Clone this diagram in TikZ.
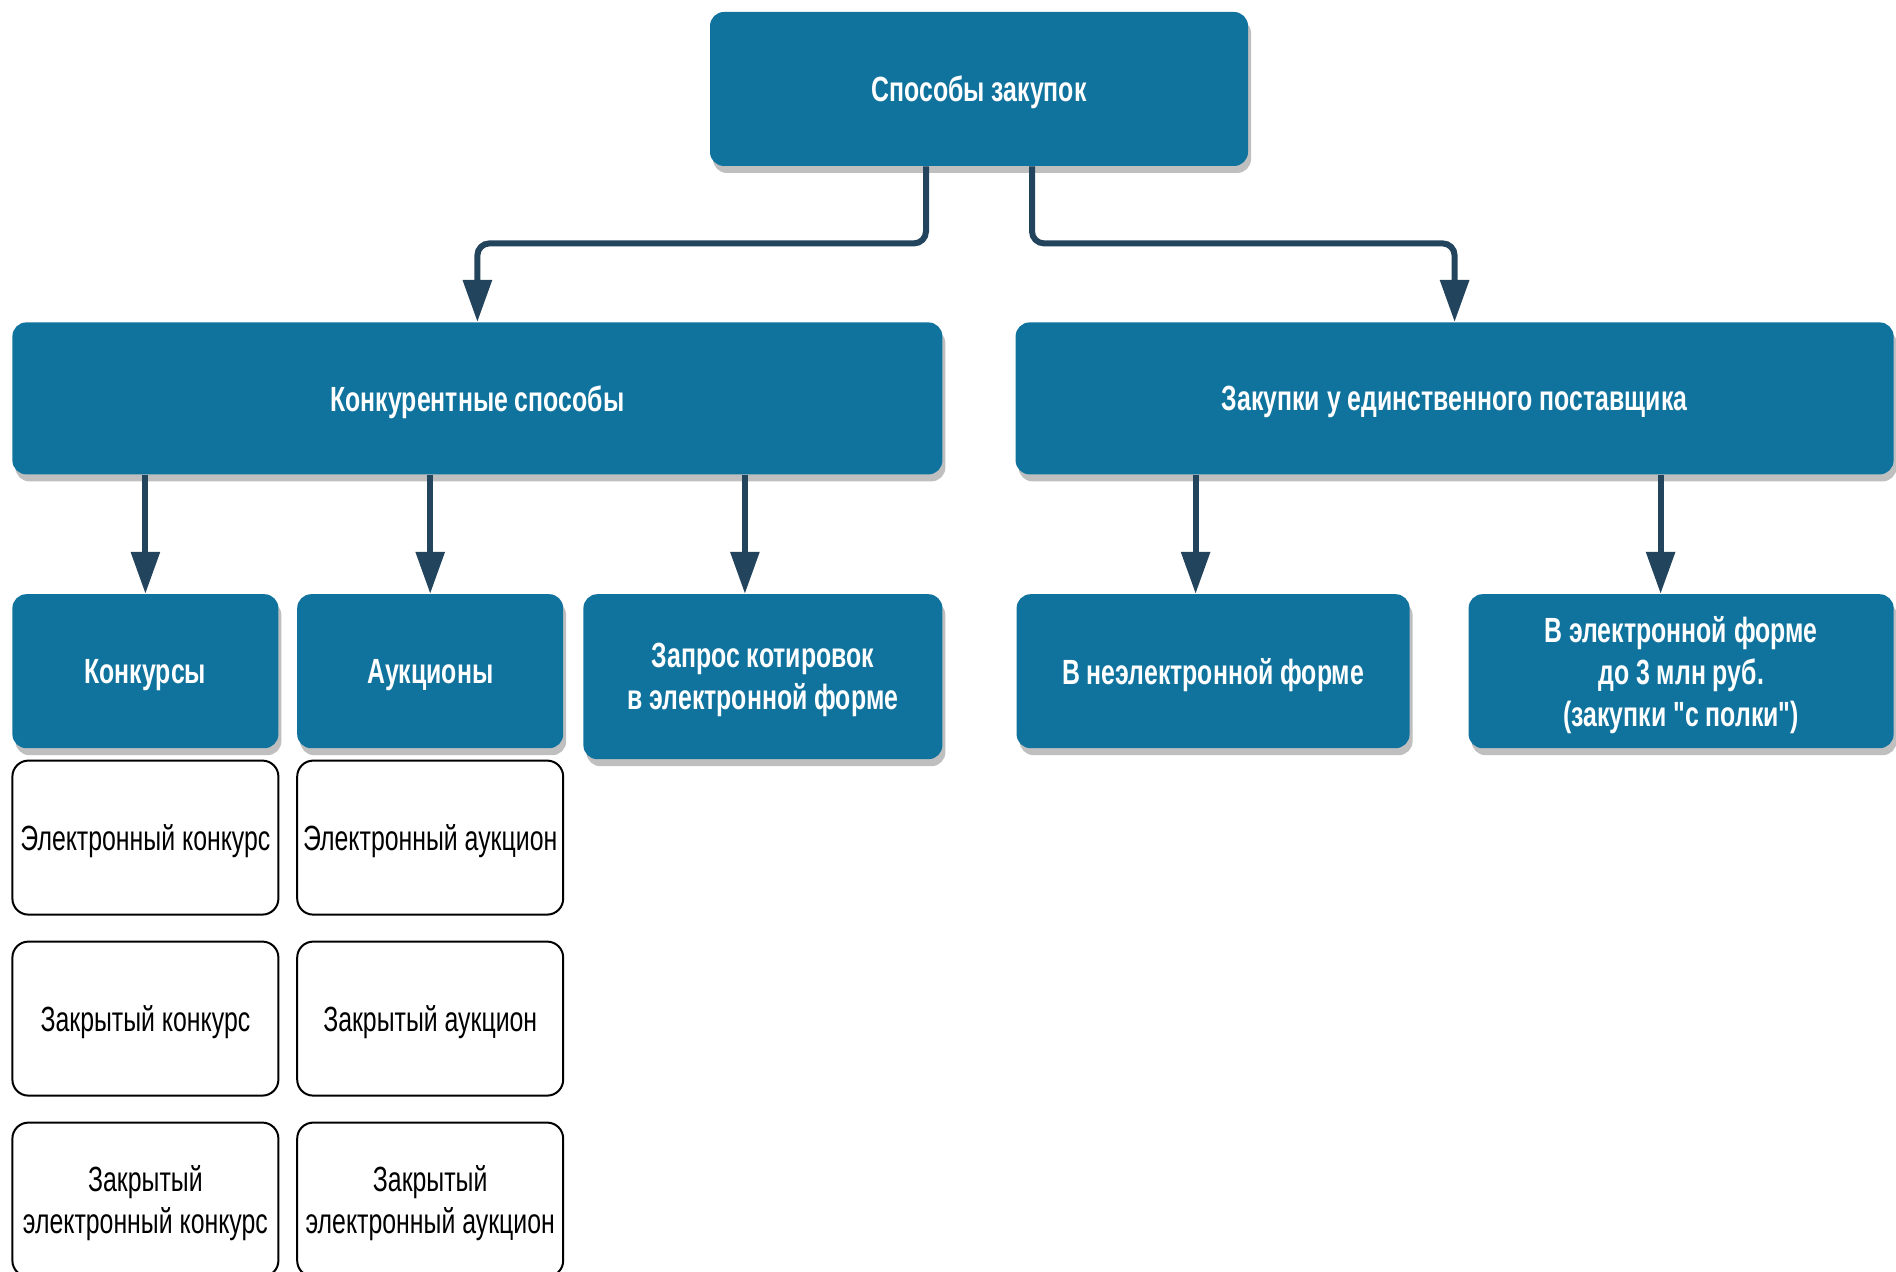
\documentclass[tikz,border=0pt]{standalone}
\usepackage{fontspec}
\setmainfont{Liberation Sans}[FakeStretch=0.71]
\usetikzlibrary{arrows.meta,
                positioning,
                shadows}
\definecolor{boxblue}{HTML}{10739E}
\definecolor{linkblue}{HTML}{23445D}
% straight double quote, kept out of the TeX ligature mapping
\font\quotefont="Liberation Sans/B:extend=0.71" at 17.5pt
\newcommand\dquote{{\quotefont\char"22}}

\begin{document}
\begin{tikzpicture}[x=0.5pt, y=0.5pt,
    node distance = 59.5pt and 9pt,
      base/.style = {minimum height=77pt, inner sep=2pt, text depth=0pt, align=center, rounded corners=7pt,
                     font=\fontsize{17.5}{21}\selectfont},
    method/.style = {base, fill=boxblue, text=white, font=\fontsize{17.5}{21}\selectfont\bfseries,
                     drop shadow={shadow xshift=1.5pt, shadow yshift=-3.5pt, fill=black, opacity=0.25}},
      kind/.style = {base, draw=black, line width=1pt, fill=white, minimum width=133pt, rounded corners=8pt},
      link/.style = {color=linkblue, line width=3pt, -{Triangle[length=21pt, width=14pt]}}
                    ]
  \useasboundingbox (0,0) rectangle (1896,-1272);
  \node [method, minimum width=269pt] (sposoby) at (979,-89) {Способы закупок};
  %
  \node [method, minimum width=465pt, minimum height=76pt, anchor=north west] (konkur) at (12,-322) {Конкурентные способы};
  \node [method, minimum width=439pt, minimum height=76pt, anchor=north east] (edinst) at (1894,-322) {Закупки у единственного поставщика};
  %---
  \node [method, minimum width=133pt, below right=59.5pt and 0pt of konkur.south west] (konkurs1) {Конкурсы};
  \node [method, minimum width=133pt, right=of konkurs1] (aukcion1) {Аукционы};
  \node [method, minimum width=179.5pt, minimum height=82.5pt, below left=59.5pt and 0pt of konkur.south east] (zapros1) {Запрос котировок\\в электронной форме};
  \node [method, minimum width=196.5pt, below right=59.5pt and 0.5pt of edinst.south west] (neelektr) {В неэлектронной форме};
  \node [method, minimum width=212.5pt, below left=59.5pt and 0pt of edinst.south east] (elektr) {В электронной форме\\до 3 млн руб.\\(закупки \dquote с полки\dquote)};
  %--- 
  \node [kind, below=5.5pt of konkurs1] (elkonk) {Электронный конкурс};
  \node [kind, below=5.5pt of aukcion1] (elauk) {Электронный аукцион};
  \node [kind, below=12.5pt of elkonk] (zakrkonk) {Закрытый конкурс};
  \node [kind, below=12.5pt of elauk] (zakrauk) {Закрытый аукцион};
  \node [kind, below=12.5pt of zakrkonk] (zakrelkonk) {Закрытый\\электронный конкурс};
  \node [kind, below=12.5pt of zakrauk] (zakrelauk) {Закрытый\\электронный аукцион};
  %===
  \draw [link, rounded corners=6pt] ([xshift=-26.5pt]sposoby.south) -- ++(0,-77) -| (konkur.north);
  \draw [link, rounded corners=6pt] ([xshift=26.5pt]sposoby.south) -- ++(0,-77) -| (edinst.north);
  \path [link]
    (konkurs1.north |- konkur.south) edge (konkurs1.north)
    (aukcion1.north |- konkur.south) edge (aukcion1.north)
    ([xshift=-9pt]zapros1.north |- konkur.south) edge ([xshift=-9pt]zapros1.north)
    ([xshift=-8.75pt]neelektr.north |- edinst.south) edge ([xshift=-8.75pt]neelektr.north)
    ([xshift=-10.25pt]elektr.north |- edinst.south) edge ([xshift=-10.25pt]elektr.north);
\end{tikzpicture}
\end{document}
